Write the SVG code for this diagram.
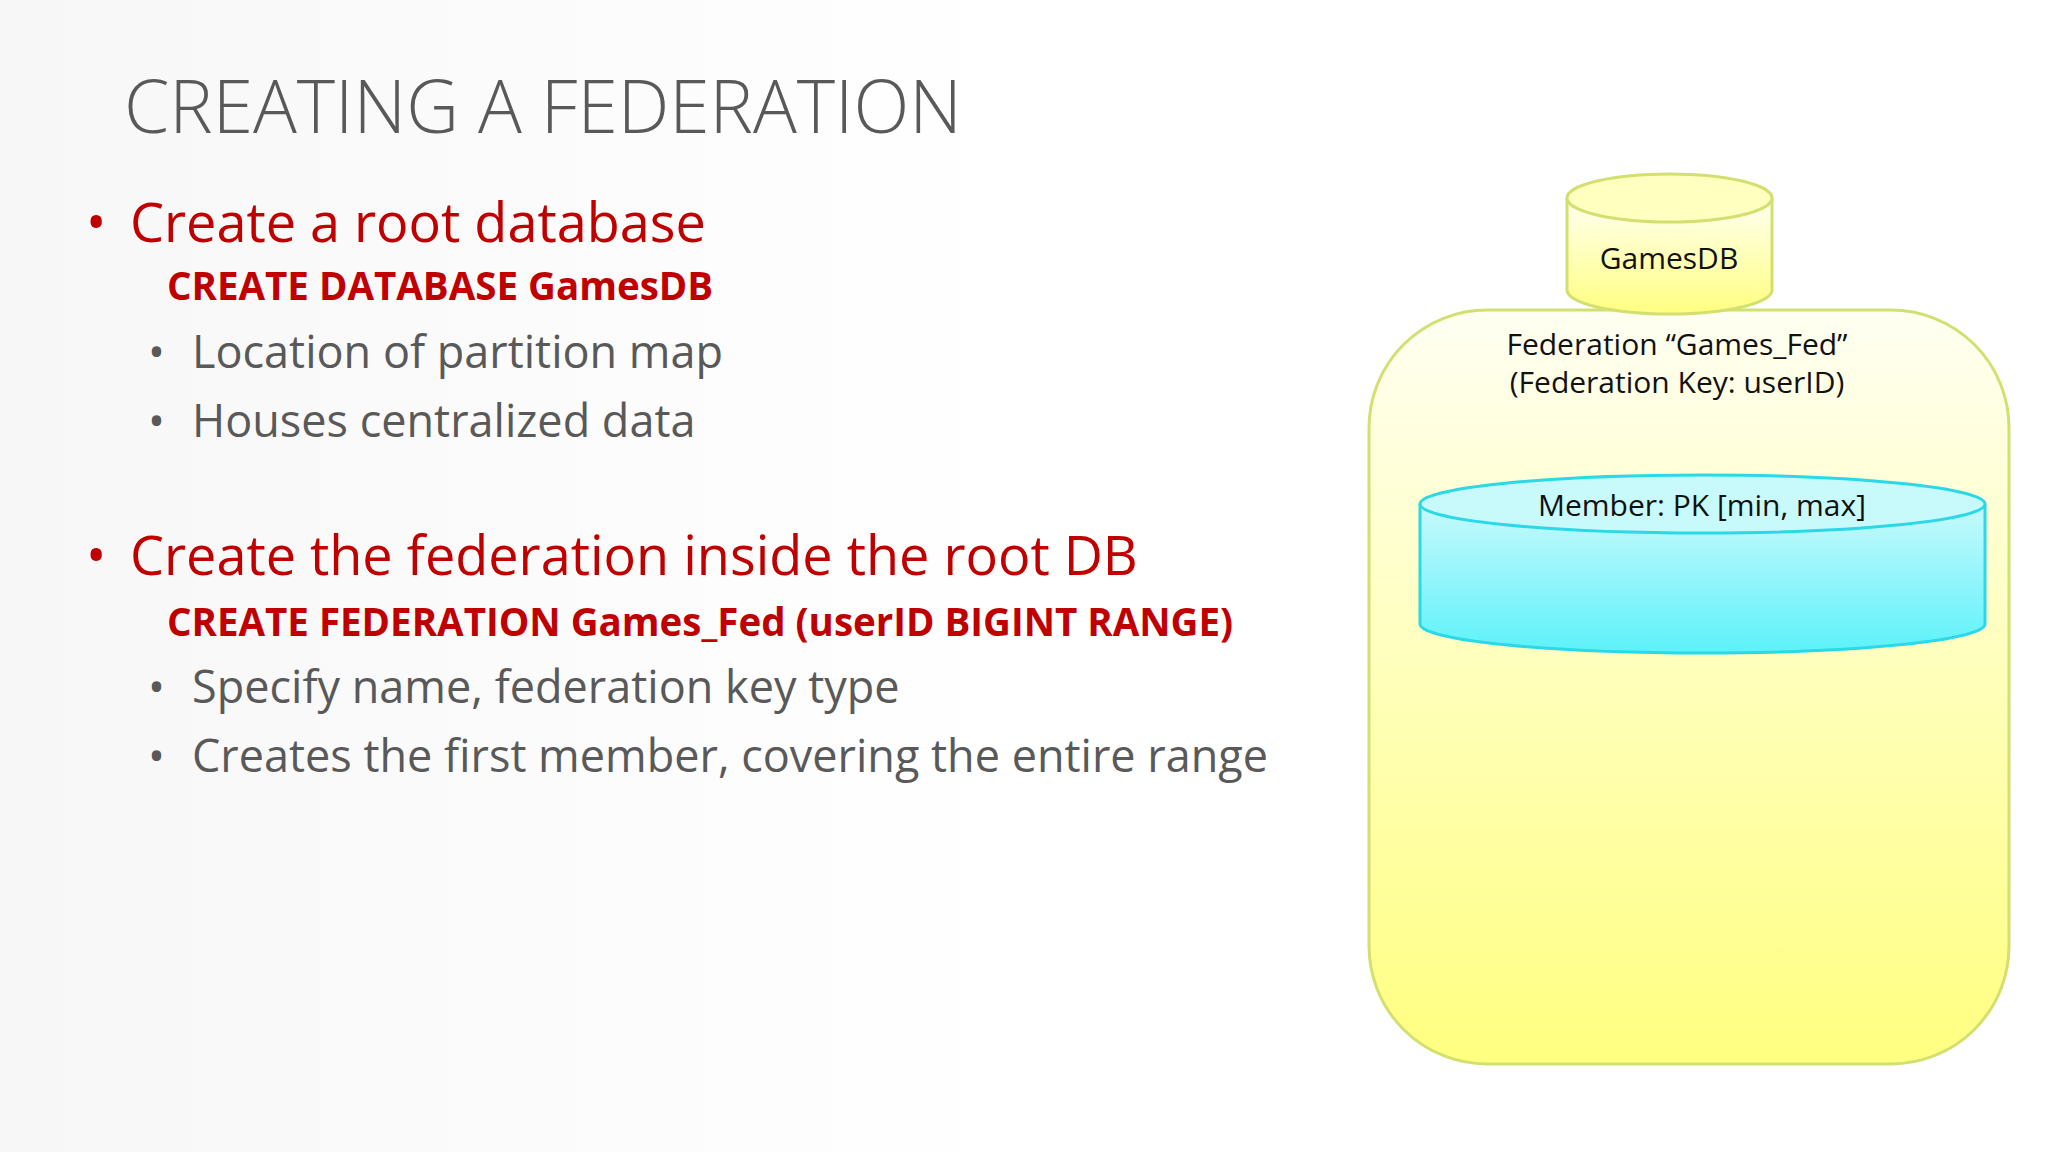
<svg xmlns="http://www.w3.org/2000/svg" width="2048" height="1152" viewBox="0 0 2048 1152">
<defs>
<linearGradient id="yel" x1="0" y1="0" x2="0" y2="1"><stop offset="0" stop-color="#fffff2"/><stop offset="1" stop-color="#ffff80"/></linearGradient>
<linearGradient id="cyan" x1="0" y1="0" x2="0" y2="1"><stop offset="0" stop-color="#c8fafc"/><stop offset="1" stop-color="#5cf2fa"/></linearGradient>
<linearGradient id="bg" x1="0" y1="0" x2="1" y2="0"><stop offset="0" stop-color="#f7f7f7"/><stop offset="0.5" stop-color="#ffffff"/></linearGradient>
</defs>
<style>
text{font-family:"Open Sans","Noto Sans","Liberation Sans",sans-serif}
.h{fill:#c00000;font-size:54px}
.c{fill:#c00000;font-size:38.5px;font-weight:bold}
.s{fill:#595959;font-size:45px}
.d{font-size:30px;fill:#111}
</style>
<rect width="2048" height="1152" fill="url(#bg)"/>
<text x="124" y="133" font-size="73" font-weight="300" fill="#595959">CREATING A FEDERATION</text>
<text x="86" y="242" class="h">•</text><text x="130" y="242" class="h">Create a root database</text>
<text x="167" y="300" class="c">CREATE DATABASE GamesDB</text>
<text x="148" y="368" class="s">•</text><text x="192" y="368" class="s">Location of partition map</text>
<text x="148" y="437" class="s">•</text><text x="192" y="437" class="s">Houses centralized data</text>
<text x="86" y="575" class="h">•</text><text x="130" y="575" class="h">Create the federation inside the root DB</text>
<text x="167" y="636" class="c">CREATE FEDERATION Games_Fed (userID BIGINT RANGE)</text>
<text x="148" y="703" class="s">•</text><text x="192" y="703" class="s">Specify name, federation key type</text>
<text x="148" y="772" class="s">•</text><text x="192" y="772" class="s">Creates the first member, covering the entire range</text>
<g id="federation">
<rect x="1369" y="310" width="640" height="754" rx="118" fill="url(#yel)" stroke="#d2e070" stroke-width="3"/>
<text x="1677" y="355" text-anchor="middle" class="d">Federation “Games_Fed”</text>
<text x="1677" y="393" text-anchor="middle" class="d" font-size="28">(Federation Key: userID)</text>
</g>
<g id="gamesdb">
<path d="M1567 198 V290 A102.5 24 0 0 0 1772 290 V198" fill="url(#yel)" stroke="#d2e070" stroke-width="3"/>
<ellipse cx="1669.5" cy="198" rx="102.5" ry="24" fill="#ffffc0" stroke="#d2e070" stroke-width="3"/>
<text x="1669" y="269" text-anchor="middle" class="d">GamesDB</text>
</g>
<g id="member">
<path d="M1420 504 V624 A282.5 29 0 0 0 1985 624 V504" fill="url(#cyan)" stroke="#2ad8e8" stroke-width="3"/>
<ellipse cx="1702.5" cy="504" rx="282.5" ry="29" fill="#c8fafc" stroke="#2ad8e8" stroke-width="3"/>
<text x="1702" y="516" text-anchor="middle" class="d">Member: PK [min, max]</text>
</g>
<g id="connectors"/>
</svg>
